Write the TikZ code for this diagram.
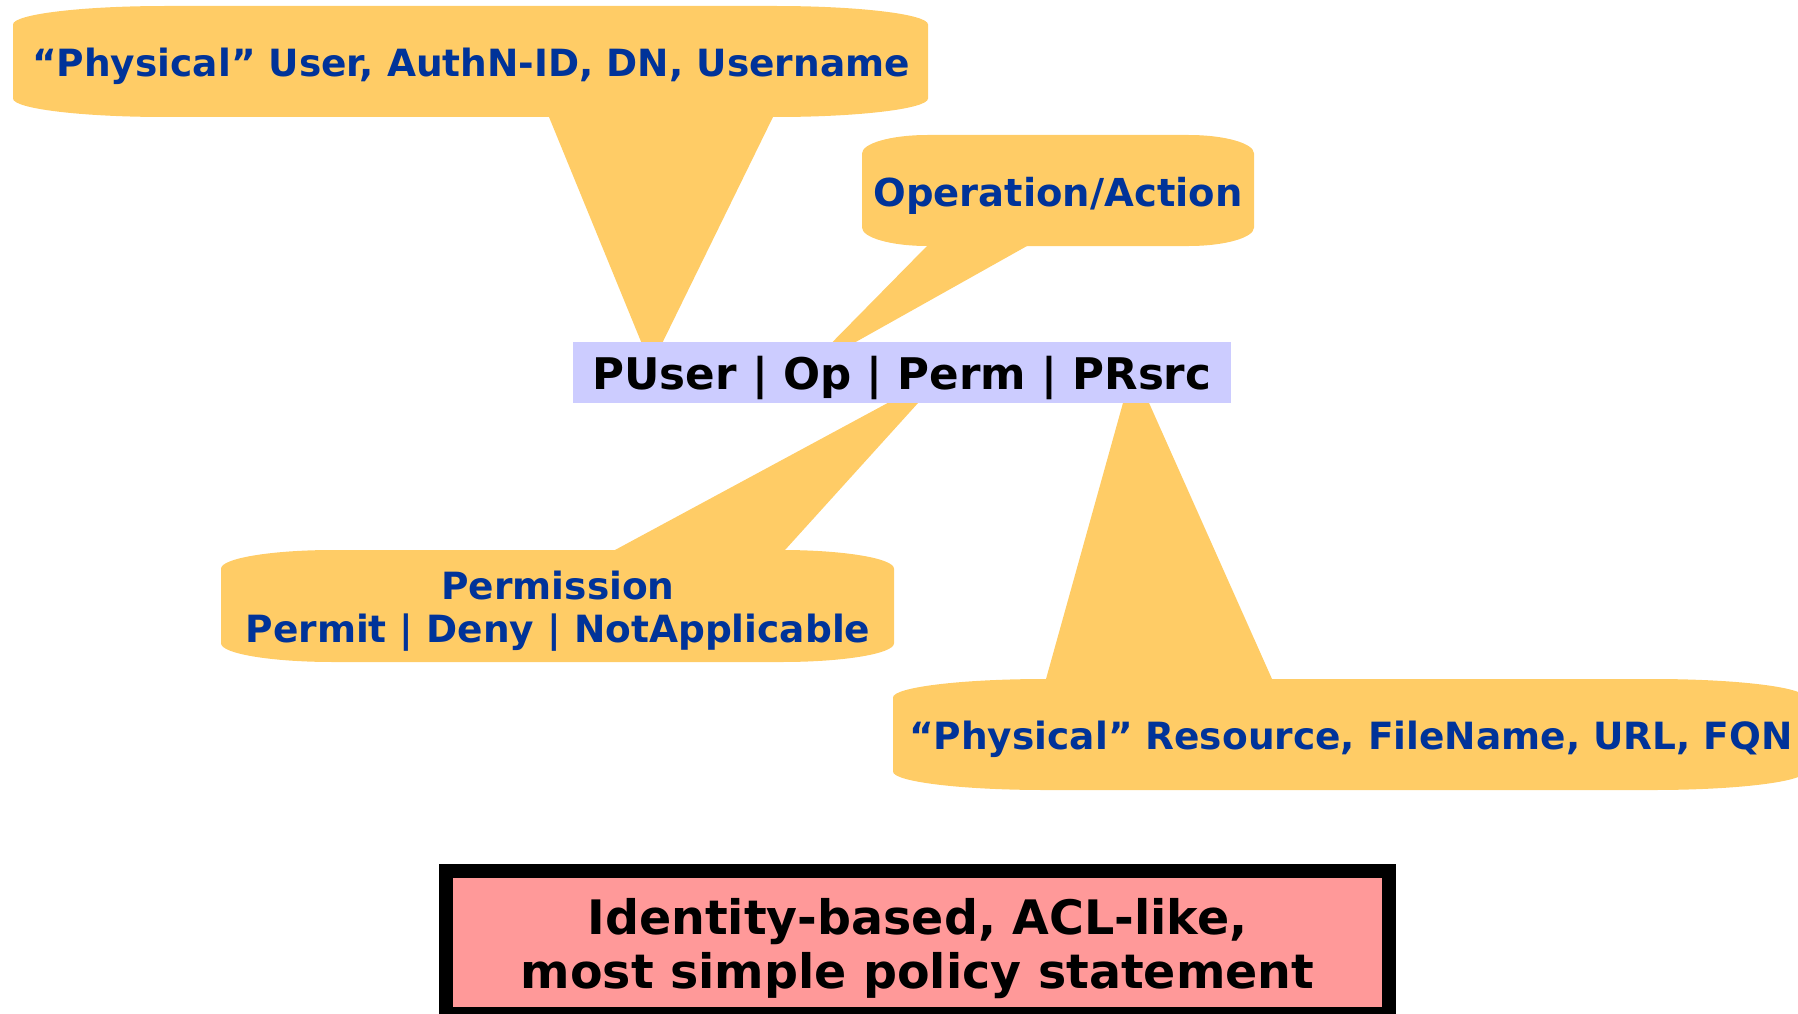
\documentclass[tikz,border=0pt]{standalone}
\usepackage{fontspec}
\setmainfont{DejaVu Sans}
\definecolor{bub}{HTML}{FFCC66}
\definecolor{txtblue}{HTML}{003399}
\definecolor{lav}{HTML}{CCCCFF}
\definecolor{pinkbox}{HTML}{FF9999}
\newcommand\bubblebody[4]{%
  \pgfmathsetmacro\rxx{(#3-#1)/6}%
  \pgfmathsetmacro\ryy{(#4-#2)/6}%
  \fill[bub] (#1,#2+\ryy) .. controls (#1,#2+0.448*\ryy) and (#1+0.448*\rxx,#2) .. (#1+\rxx,#2)
    -- (#3-\rxx,#2) .. controls (#3-0.448*\rxx,#2) and (#3,#2+0.448*\ryy) .. (#3,#2+\ryy)
    -- (#3,#4-\ryy) .. controls (#3,#4-0.448*\ryy) and (#3-0.448*\rxx,#4) .. (#3-\rxx,#4)
    -- (#1+\rxx,#4) .. controls (#1+0.448*\rxx,#4) and (#1,#4-0.448*\ryy) .. (#1,#4-\ryy) -- cycle;
}
\tikzset{
  bubtext/.style={text=txtblue, font=\fontsize{37.5}{43}\selectfont\bfseries, anchor=base, inner sep=0pt, align=center},
}
\begin{document}
\begin{tikzpicture}[x=1pt,y=-1pt]
\useasboundingbox (0,0) rectangle (1798,1014);
% tail tips (hidden behind the central box)
\coordinate (tipA) at (651,366);
\coordinate (tipB) at (804,371);
\coordinate (tipC) at (947,371);
\coordinate (tipD) at (1133,367);
% callout 1
\bubblebody{13}{6}{928}{117}
\fill[bub] (549,117) -- (tipA) -- (773,117) -- (773,110) -- (549,110) -- cycle;
% callout 2
\bubblebody{862}{135}{1254}{246}
\fill[bub] (927,246) -- (tipB) -- (1027,246) -- (1027,239) -- (927,239) -- cycle;
% callout 3
\bubblebody{221}{550}{894}{662}
\fill[bub] (615,550) -- (tipC) -- (785,550) -- (785,557) -- (615,557) -- cycle;
% callout 4
\bubblebody{893}{679}{1805}{790}
\fill[bub] (1046,679) -- (tipD) -- (1272,679) -- (1272,686) -- (1046,686) -- cycle;
% texts
\node[bubtext] (user) at (471,77) {“Physical” User, AuthN-ID, DN, Username};
\node[bubtext, font=\fontsize{38.5}{43}\selectfont\bfseries] (op) at (1058,206) {Operation/Action};
\node[bubtext] (perm) at (558,642) {Permission\\Permit | Deny | NotApplicable};
\node[bubtext] (rsrc) at (1351,749) {“Physical” Resource, FileName, URL, FQN};
% central statement
\node[fill=lav, minimum width=658, minimum height=61, inner sep=0pt] (stmt) at (902,372.5) {};
\node[font=\fontsize{43.6}{46}\selectfont\bfseries, anchor=base, inner sep=0pt] (stmttext) at (902,389) {PUser | Op | Perm | PRsrc};
% bottom box
\node[draw=black, line width=14, fill=pinkbox, minimum width=943, minimum height=143, inner sep=0pt] (note) at (917.5,942.5) {};
\node[font=\fontsize{47.5}{54}\selectfont\bfseries, anchor=base, inner sep=0pt, align=center] (notetext) at (917.5,988) {Identity-based, ACL-like,\\most simple policy statement};
\end{tikzpicture}
\end{document}
